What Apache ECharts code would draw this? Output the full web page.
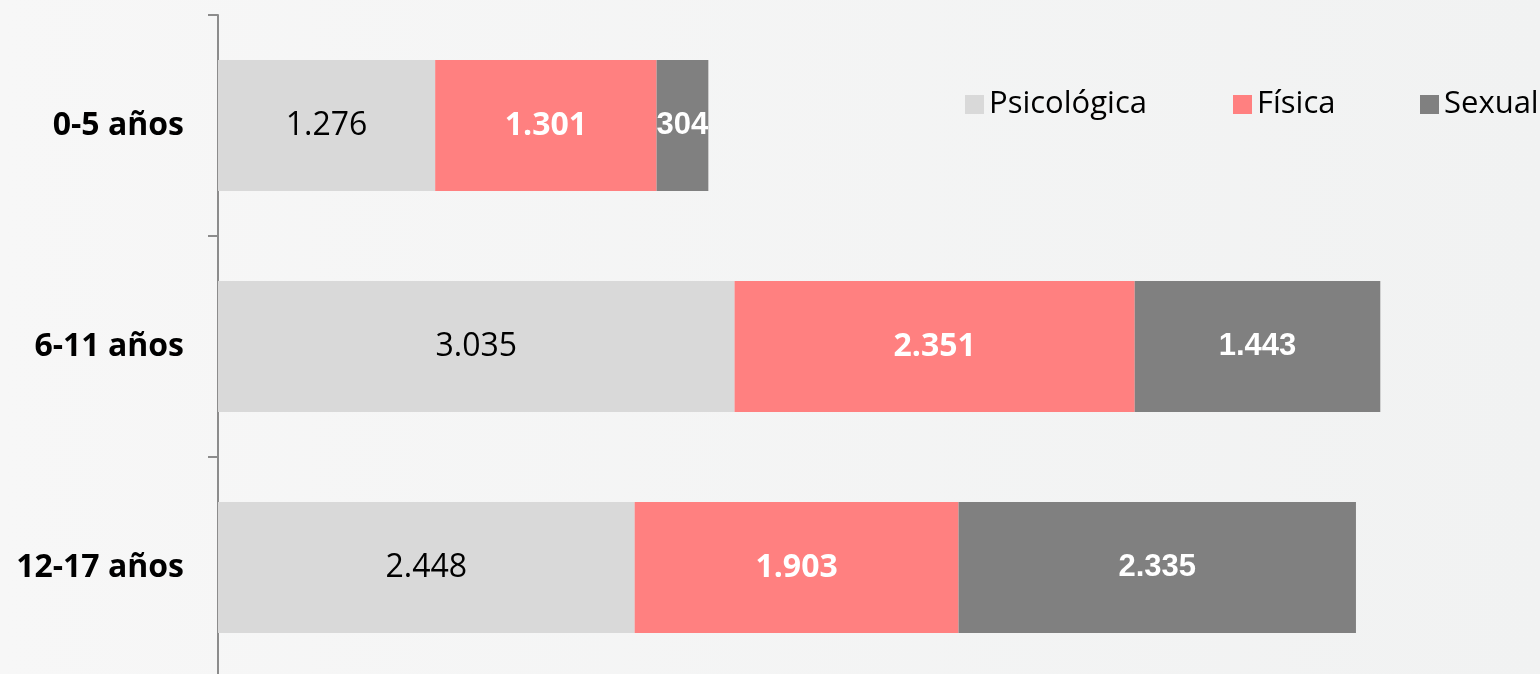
<!DOCTYPE html>
<html>
<head>
<meta charset="utf-8">
<script src="https://cdn.jsdelivr.net/npm/echarts@6/dist/echarts.min.js"></script>
<style>
  html, body { margin: 0; padding: 0; background: #f6f6f6; }
  #chart { width: 1540px; height: 674px; }
</style>
</head>
<body>
<div id="chart"></div>
<script>
// datos
var categorias = ['0-5 años', '6-11 años', '12-17 años'];
var psicologica = [1276, 3035, 2448];
var fisica = [1301, 2351, 1903];
var sexual = [304, 1443, 2335];

// 1.276 con punto de miles
function fmt(p) {
    return String(p.value).replace(/\B(?=(\d{3})+(?!\d))/g, '.');
}

var myChart = echarts.init(document.getElementById('chart'));

var legendText = { fontFamily: 'Open Sans', fontSize: 31, color: '#000' };

myChart.setOption({
    backgroundColor: {
        type: 'linear', x: 0, y: 0, x2: 1, y2: 0,
        colorStops: [{ offset: 0, color: '#f7f7f7' }, { offset: 1, color: '#f1f2f2' }]
    },
    animation: false,
    grid: { left: 218, top: 15, right: 45.5, height: 663, outerBoundsMode: 'none', containLabel: false },
    legend: [
        { left: 960, top: 84, itemWidth: 19, itemHeight: 19, itemGap: 8, icon: 'rect', textStyle: legendText, data: ['Psicológica'] },
        { left: 1228, top: 84, itemWidth: 19, itemHeight: 19, icon: 'rect', textStyle: legendText, data: ['Física'] },
        { left: 1415, top: 84, itemWidth: 19, itemHeight: 19, icon: 'rect', textStyle: legendText, data: ['Sexual'] }
    ],
    xAxis: {
        type: 'value',
        min: 0,
        max: 7500,
        show: false
    },
    yAxis: {
        type: 'category',
        data: categorias,
        inverse: true,
        axisLine: { lineStyle: { color: '#8c8c8c', width: 2 } },
        axisTick: { show: true, length: 10, lineStyle: { color: '#8c8c8c', width: 2 } },
        axisLabel: {
            margin: 34,
            color: '#000',
            fontFamily: 'Open Sans',
            fontWeight: 'bold',
            fontSize: 32
        }
    },
    series: [
        {
            name: 'Psicológica',
            type: 'bar',
            stack: 'total',
            barWidth: 131,
            data: psicologica,
            itemStyle: { color: '#d9d9d9' },
            label: {
                show: true, position: 'inside', formatter: fmt,
                color: '#000', fontFamily: 'Open Sans', fontSize: 32
            }
        },
        {
            name: 'Física',
            type: 'bar',
            stack: 'total',
            data: fisica,
            itemStyle: { color: '#ff8080' },
            label: {
                show: true, position: 'inside', formatter: fmt,
                color: '#fff', fontFamily: 'Open Sans', fontWeight: 'bold', fontSize: 32
            }
        },
        {
            name: 'Sexual',
            type: 'bar',
            stack: 'total',
            data: sexual,
            itemStyle: { color: '#808080' },
            label: {
                show: true, position: 'inside', formatter: fmt,
                color: '#fff', fontFamily: '"Liberation Sans"', fontWeight: 'bold', fontSize: 31
            }
        }
    ]
});
</script>
</body>
</html>
